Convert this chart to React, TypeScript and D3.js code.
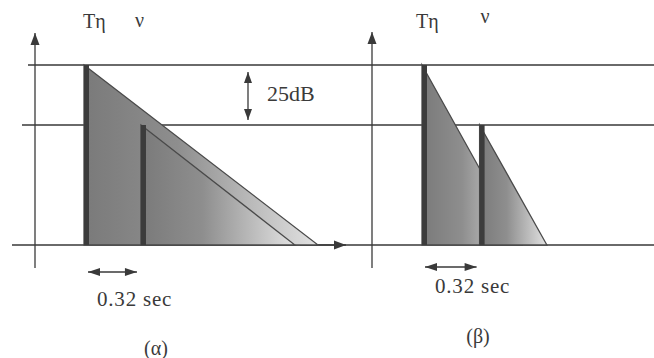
import React from "react";
import * as d3 from "d3";

// ---- data ----
const levelLinesDb = [0, -25, -75]; // top, middle, floor reference lines
const onsetLabels = ["Tη", "ν"];
const onsetsSec = [0, 0.32];
const onsetLevelsDb = [0, -25];
const decayEndSecA = [1.315, 1.185]; // panel (α): slow decay
const decayEndSecB = [0.556, 0.694]; // panel (β): fast decay
const panelLabels = ["(α)", "(β)"];
const stepLabel = "25dB";
const gapLabel = "0.32 sec";

const W = 654;
const H = 358;
const FONT = '"Liberation Serif", "DejaVu Serif", serif';
const INK = "#3a3a3a";
const LINE = "#6a6a6a";
const BAR_W = 5;

const y = d3.scaleLinear().domain([0, -75]).range([65, 245]);
const xA = d3.scaleLinear().domain([0, 1]).range([84, 84 + 178]);
const xB = d3.scaleLinear().domain([0, 1]).range([422, 422 + 180]);

function Arrow({ x1, y1, x2, y2, both = false, size = 9, half = 3.5 }: any) {
  const ang = Math.atan2(y2 - y1, x2 - x1);
  const head = (px: number, py: number, a: number) => {
    const bx = px - size * Math.cos(a);
    const by = py - size * Math.sin(a);
    const nx = -Math.sin(a) * half;
    const ny = Math.cos(a) * half;
    return `M${px},${py}L${bx + nx},${by + ny}L${bx - nx},${by - ny}Z`;
  };
  return (
    <g>
      <line x1={x1} y1={y1} x2={x2} y2={y2} stroke={INK} strokeWidth={1.3} />
      <path d={head(x2, y2, ang)} fill={INK} />
      {both && <path d={head(x1, y1, ang + Math.PI)} fill={INK} />}
    </g>
  );
}

function Panel({ x, ends, id }: any) {
  const floor = y(-75);
  const tri = (i: number) => {
    const t0 = onsetsSec[i];
    const pts: [number, number][] = [
      [x(t0), y(onsetLevelsDb[i])],
      [x(ends[i]), floor],
      [x(t0), floor],
    ];
    return d3.line()(pts) + "Z";
  };
  return (
    <g>
      {onsetsSec.map((t, i) => (
        <g key={i}>
          <path d={tri(i)} fill={`url(#${id}g${i})`} stroke="#4a4a4a" strokeWidth={1.3} />
          <rect
            x={x(t)}
            y={y(onsetLevelsDb[i])}
            width={BAR_W}
            height={floor - y(onsetLevelsDb[i])}
            fill="#3c3c3c"
          />
        </g>
      ))}
    </g>
  );
}

export default function App() {
  const grads = (id: string, x: any, ends: number[]) =>
    onsetsSec.map((t, i) => (
      <linearGradient
        key={id + i}
        id={`${id}g${i}`}
        gradientUnits="userSpaceOnUse"
        x1={x(t)}
        x2={x(ends[i])}
        y1={0}
        y2={0}
      >
        <stop offset="0" stopColor="#7a7a7a" />
        <stop offset="0.4" stopColor="#8e8e8e" />
        <stop offset="1" stopColor="#e2e2e2" />
      </linearGradient>
    ));

  const lineStarts = [28, 22, 12];
  const txt = { fontFamily: FONT, fill: INK } as any;

  return (
    <svg
      width={W}
      height={H}
      style={{ position: "absolute", left: 0, top: 0, background: "#fff" }}
    >
      <defs>
        {grads("a", xA, decayEndSecA)}
        {grads("b", xB, decayEndSecB)}
      </defs>

      {/* reference level lines */}
      {levelLinesDb.map((db, i) => (
        <line key={i} x1={lineStarts[i]} x2={W} y1={y(db)} y2={y(db)} stroke={LINE} strokeWidth={2} />
      ))}

      {/* y axes */}
      <Arrow x1={35} y1={268} x2={35} y2={33} size={12} half={4.5} />
      <Arrow x1={372} y1={268} x2={372} y2={32} size={12} half={4.5} />
      {/* x axis arrowhead of panel α */}
      <Arrow x1={300} y1={y(-75)} x2={346} y2={y(-75)} size={12} half={4.5} />

      <Panel x={xA} ends={decayEndSecA} id="a" />
      <Panel x={xB} ends={decayEndSecB} id="b" />

      {/* onset labels */}
      <g style={{ ...txt, fontSize: 20 }}>
        <text x={xA(onsetsSec[0]) - 1} y={28}>{onsetLabels[0]}</text>
        <text x={xA(onsetsSec[1]) - 6} y={27}>{onsetLabels[1]}</text>
        <text x={xB(onsetsSec[0]) - 6} y={28}>{onsetLabels[0]}</text>
        <text x={xB(onsetsSec[1]) + 1} y={23}>{onsetLabels[1]}</text>
      </g>

      {/* 25 dB step */}
      <Arrow x1={248} y1={96} x2={248} y2={72} size={11} half={4} />
      <Arrow x1={248} y1={96} x2={248} y2={120} size={11} half={4} />
      <text x={267} y={101} style={{ ...txt, fontSize: 22 }}>{stepLabel}</text>

      {/* 0.32 sec gaps */}
      <Arrow x1={xA(0) + 4} y1={272} x2={xA(onsetsSec[1]) - 4} y2={272} both size={12} half={4} />
      <text x={97} y={306} style={{ ...txt, fontSize: 21, letterSpacing: 0.8 }}>{gapLabel}</text>
      <Arrow x1={xB(0) + 3} y1={267} x2={xB(onsetsSec[1]) - 3} y2={267} both size={12} half={4} />
      <text x={435} y={293} style={{ ...txt, fontSize: 21, letterSpacing: 0.8 }}>{gapLabel}</text>

      {/* panel labels */}
      <text x={156} y={355} textAnchor="middle" style={{ ...txt, fontSize: 20 }}>{panelLabels[0]}</text>
      <text x={478} y={343} textAnchor="middle" style={{ ...txt, fontSize: 20 }}>{panelLabels[1]}</text>
    </svg>
  );
}
